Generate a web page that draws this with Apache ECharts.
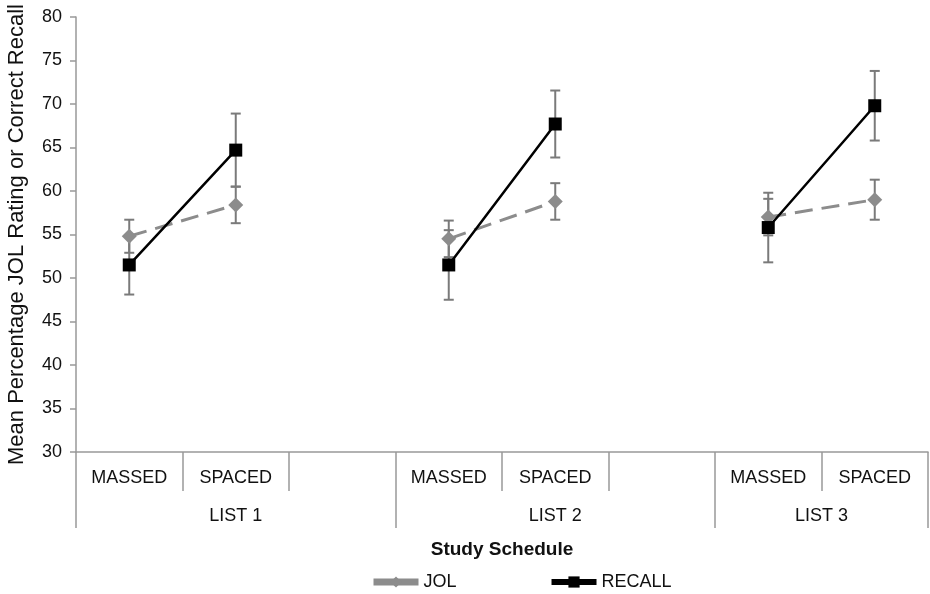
<!DOCTYPE html>
<html>
<head>
<meta charset="utf-8">
<script src="https://cdn.jsdelivr.net/npm/echarts@6/dist/echarts.min.js"></script>
<style>
  html, body { margin: 0; padding: 0; background: #fff; }
  #chart { width: 930px; height: 594px; }
</style>
</head>
<body>
<div id="chart"></div>
<script>
// slots along the x axis: massed / spaced per list, plus a blank slot between lists
const schedules = ['MASSED', 'SPACED', '', 'MASSED', 'SPACED', '', 'MASSED', 'SPACED'];
const lists = ['LIST 1', 'LIST 2', 'LIST 3'];
const listSpans = [3, 3, 2];

const jolMean = [54.8, 58.4, null, 54.5, 58.8, null, 57.0, 59.0];
const jolErr = [1.9, 2.1, null, 2.1, 2.1, null, 2.1, 2.3];
const recallMean = [51.5, 64.7, null, 51.5, 67.7, null, 55.8, 69.8];
const recallErr = [3.4, 4.2, null, 4.0, 3.85, null, 4.0, 4.0];

const yTicks = { min: 30, max: 80, interval: 5 };

const FONT = '"Liberation Sans", Arial, sans-serif';
const TEXT = '#111';
const AXIS = '#999';

// second level labels: one per list, centred in its span
const listStarts = [];
let acc = 0;
listSpans.forEach(s => { listStarts.push(acc); acc += s; });
const bandW = (930 - 76 - 2) / schedules.length;
const listLabels = schedules.map(() => '');
lists.forEach((name, i) => {
  const centre = listStarts[i] + (listSpans[i] - 1) / 2;
  const idx = Math.floor(centre);
  listLabels[idx] = centre === idx ? name : '{pad|}' + name;
});

function errData(mean, err) {
  const out = [];
  mean.forEach((m, i) => {
    if (m != null) out.push([i, m - err[i], m + err[i]]);
  });
  return out;
}

function renderErr(params, api) {
  const x = api.value(0);
  const lo = api.coord([x, api.value(1)]);
  const hi = api.coord([x, api.value(2)]);
  const cap = 5;
  const style = { stroke: '#7a7a7a', lineWidth: 2 };
  return {
    type: 'group',
    children: [
      { type: 'line', shape: { x1: lo[0], y1: lo[1], x2: hi[0], y2: hi[1] }, style },
      { type: 'line', shape: { x1: lo[0] - cap, y1: lo[1], x2: lo[0] + cap, y2: lo[1] }, style },
      { type: 'line', shape: { x1: hi[0] - cap, y1: hi[1], x2: hi[0] + cap, y2: hi[1] }, style }
    ]
  };
}

const chart = echarts.init(document.getElementById('chart'), null, { renderer: 'canvas' });

chart.setOption({
  animation: false,
  textStyle: { fontFamily: FONT, color: TEXT },
  grid: { left: 76, right: 2, top: 17, bottom: 142, containLabel: false, outerBoundsMode: 'none' },
  legend: {
    left: 365,
    top: 568,
    itemWidth: 45,
    itemHeight: 14,
    itemGap: 92,
    textStyle: { fontFamily: FONT, fontSize: 18, color: TEXT },
    data: [
      { name: 'JOL', lineStyle: { width: 7, type: 'solid' } },
      { name: 'RECALL', lineStyle: { width: 6 } }
    ]
  },
  xAxis: [
    {
      type: 'category',
      position: 'bottom',
      data: schedules,
      axisLine: { lineStyle: { color: AXIS, width: 1.5 } },
      axisTick: { show: true, interval: 0, length: 39, lineStyle: { color: AXIS, width: 1.5 } },
      axisLabel: { interval: 0, margin: 17, fontSize: 18, color: TEXT, fontFamily: FONT },
      splitLine: { show: false }
    },
    {
      type: 'category',
      position: 'bottom',
      offset: 0,
      data: listLabels,
      axisLine: { show: false },
      axisTick: {
        show: true,
        length: 76,
        interval: (i) => listStarts.indexOf(i) >= 0,
        lineStyle: { color: AXIS, width: 1.5 }
      },
      axisLabel: {
        interval: 0,
        margin: 55,
        fontSize: 18,
        color: TEXT,
        fontFamily: FONT,
        rich: { pad: { width: bandW } }
      },
      name: 'Study Schedule',
      nameLocation: 'middle',
      nameGap: 88,
      nameTextStyle: { fontFamily: FONT, fontSize: 19, fontWeight: 'bold', color: TEXT },
      splitLine: { show: false }
    }
  ],
  yAxis: {
    type: 'value',
    min: yTicks.min,
    max: yTicks.max,
    interval: yTicks.interval,
    name: 'Mean Percentage JOL Rating or Correct Recall',
    nameLocation: 'middle',
    nameGap: 48,
    nameTextStyle: { fontFamily: FONT, fontSize: 22, color: TEXT },
    axisLine: { show: true, lineStyle: { color: AXIS, width: 1.5 } },
    axisTick: { show: true, length: 6, lineStyle: { color: AXIS, width: 1.5 } },
    axisLabel: { margin: 14, fontSize: 18, color: TEXT, fontFamily: FONT },
    splitLine: { show: false }
  },
  series: [
    {
      name: 'JOL err',
      type: 'custom',
      xAxisIndex: 0,
      renderItem: renderErr,
      data: errData(jolMean, jolErr),
      z: 1,
      silent: true
    },
    {
      name: 'RECALL err',
      type: 'custom',
      xAxisIndex: 0,
      renderItem: renderErr,
      data: errData(recallMean, recallErr),
      z: 1,
      silent: true
    },
    {
      name: 'JOL',
      type: 'line',
      xAxisIndex: 0,
      data: jolMean,
      connectNulls: false,
      symbol: 'diamond',
      symbolSize: [15, 15],
      itemStyle: { color: '#8c8c8c' },
      lineStyle: { color: '#8c8c8c', width: 3, type: [18, 9] },
      z: 3
    },
    {
      name: 'RECALL',
      type: 'line',
      xAxisIndex: 0,
      data: recallMean,
      connectNulls: false,
      symbol: 'rect',
      symbolSize: 13,
      itemStyle: { color: '#000' },
      lineStyle: { color: '#000', width: 2.5 },
      z: 4
    }
  ]
});
</script>
</body>
</html>
